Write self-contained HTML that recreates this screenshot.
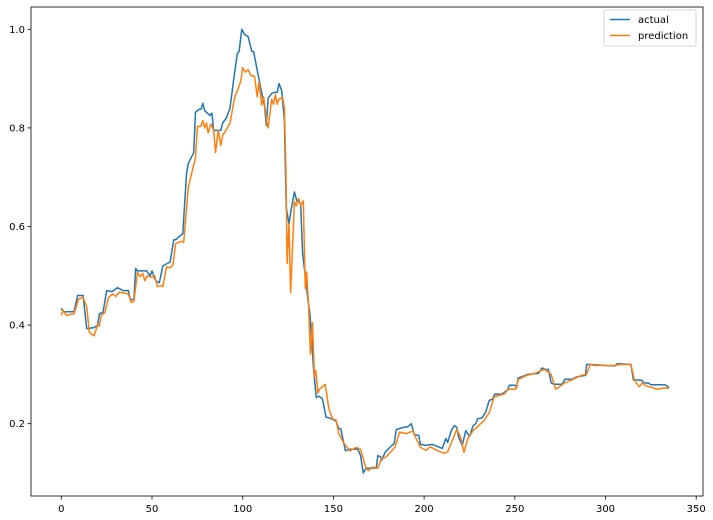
<!DOCTYPE html>
<html><head><meta charset="utf-8"><style>
body{margin:0;background:#fff;}
svg{display:block;font-family:"DejaVu Sans","Liberation Sans",sans-serif;}
</style></head><body>
<svg id="chart" width="713" height="520"></svg>
<script>
const xTicks=[0,50,100,150,200,250,300,350];
const yTicks=[0.2,0.4,0.6,0.8,1.0];
const yTickLabels=["0.2","0.4","0.6","0.8","1.0"];
const actualIdx=[0,1,7,9,12,14,18,20,21,23,25,28,31,34,37,38,40,41,42,47,49,50,52,54,56,60,62,63,67,69,70,73,74,76,77,78,79,82,83,84,88,89,91,93,95,97,98,99.5,101,103,105,106,108,110,112,113,114,116,117.5,119,120,121.5,123,124,125.5,126.5,128.5,130,131,132,133,134.5,136,137,138,139,140.5,142,144,146,147.5,149,151.5,153,154,156.6,159,163.5,165,166.5,168,173.6,174.5,176,176.5,178.5,182,183.5,184.6,188,191,193,194.5,197,198,201,204.5,208,210,212,213,215,216.6,218,219,221,223,225,227,228.5,229.5,232,234,235.9,237.7,239,243,245,246,247,250,251,251.8,255,257,263,265,267,268.5,270,271.6,276,277.6,281.5,284,289,289.6,291.5,305,306.5,314,315.4,320,321,324,325,333,335];
const actualVal=[0.434,0.427,0.427,0.46,0.46,0.393,0.395,0.40,0.423,0.426,0.47,0.468,0.476,0.47,0.47,0.452,0.452,0.515,0.51,0.51,0.50,0.51,0.49,0.486,0.52,0.528,0.573,0.573,0.586,0.707,0.728,0.75,0.832,0.838,0.838,0.85,0.835,0.825,0.83,0.795,0.795,0.81,0.82,0.84,0.897,0.951,0.955,1.0,0.99,0.985,0.955,0.955,0.917,0.88,0.845,0.805,0.86,0.87,0.872,0.872,0.89,0.875,0.815,0.639,0.605,0.63,0.67,0.65,0.65,0.645,0.545,0.50,0.45,0.425,0.375,0.315,0.253,0.256,0.25,0.213,0.212,0.21,0.205,0.19,0.19,0.145,0.148,0.148,0.135,0.10,0.11,0.11,0.135,0.133,0.125,0.142,0.155,0.16,0.188,0.192,0.194,0.20,0.178,0.176,0.158,0.156,0.158,0.153,0.15,0.17,0.162,0.186,0.196,0.193,0.173,0.156,0.186,0.174,0.196,0.20,0.21,0.212,0.224,0.247,0.25,0.26,0.26,0.266,0.268,0.278,0.278,0.273,0.293,0.297,0.30,0.302,0.313,0.31,0.31,0.283,0.28,0.28,0.29,0.29,0.295,0.298,0.32,0.32,0.317,0.322,0.32,0.289,0.288,0.283,0.282,0.279,0.279,0.273];
const predIdx=[0,1,2.7,7,9.5,12,14,15.5,18,20,21,22,24,26,28.5,30,32,37,38.5,40,42,43.5,45,46,47.5,50,51.5,53,55,56,58,60,61.5,63,66,67.5,70,74,75,77,78,79,80,81,82.5,84,85,86.5,88,89,91.5,93,95.5,97.5,99,100,101.5,103,104.5,106.5,108,109,110.5,111.5,113.5,114,116,117,118,119,120,122,123,123.8,124.5,125.5,126.4,128.5,129.5,130.8,132,133.4,134.5,135.3,136.4,137.3,138.5,139.5,140.3,141.4,142.3,145.5,147.5,149.5,151.5,153,155.5,159,162.6,165,168,169.5,171.5,174.5,176.5,178.5,181,184,186.5,190,194,195.6,198,201,203.5,207,211,213,215.5,218,220,222,224,227,230,233,236,238.5,241,244,246.5,250.5,252,256.5,261,264.5,266.5,270,272.5,275,277.5,281,286.5,289.5,291.5,294,305,308,314,316,318.5,320.5,322,326,328,333,335];
const predVal=[0.42,0.43,0.42,0.423,0.453,0.456,0.437,0.385,0.378,0.40,0.398,0.42,0.425,0.456,0.463,0.458,0.467,0.463,0.446,0.448,0.507,0.498,0.505,0.49,0.50,0.497,0.50,0.478,0.48,0.478,0.518,0.516,0.522,0.565,0.57,0.568,0.68,0.74,0.803,0.803,0.815,0.80,0.81,0.79,0.808,0.795,0.75,0.795,0.765,0.785,0.80,0.81,0.86,0.88,0.896,0.922,0.913,0.918,0.906,0.905,0.863,0.893,0.846,0.863,0.806,0.80,0.858,0.848,0.868,0.848,0.858,0.862,0.84,0.72,0.525,0.606,0.466,0.65,0.642,0.657,0.642,0.652,0.474,0.508,0.434,0.341,0.405,0.295,0.308,0.262,0.27,0.28,0.23,0.21,0.207,0.18,0.162,0.145,0.152,0.148,0.108,0.105,0.112,0.11,0.13,0.131,0.14,0.153,0.183,0.18,0.185,0.17,0.152,0.146,0.153,0.146,0.14,0.143,0.166,0.188,0.174,0.142,0.169,0.186,0.196,0.206,0.223,0.254,0.257,0.26,0.27,0.27,0.29,0.298,0.302,0.308,0.31,0.30,0.27,0.276,0.283,0.288,0.298,0.30,0.32,0.318,0.318,0.32,0.32,0.288,0.275,0.283,0.277,0.273,0.27,0.273,0.271];

const NS="http://www.w3.org/2000/svg";
const svg=document.getElementById('chart');
const L=31,R=703,T=7,B=496;
function xs(v){return 61.3+v*1.814;}
function ys(v){return 29.3+(1-v)*493;}
function mk(tag,attrs,parent){const e=document.createElementNS(NS,tag);for(const k in attrs)e.setAttribute(k,attrs[k]);(parent||svg).appendChild(e);return e;}

const a=mk('path',{d:actualIdx.map((v,i)=>(i?'L':'M')+xs(v).toFixed(1)+','+ys(actualVal[i]).toFixed(1)).join(''),fill:'none',stroke:'#1f77b4','stroke-width':1.5,'stroke-linejoin':'round'});


const p=mk('path',{d:predIdx.map((v,i)=>(i?'L':'M')+xs(v).toFixed(1)+','+ys(predVal[i]).toFixed(1)).join(''),fill:'none',stroke:'#ff7f0e','stroke-width':1.5,'stroke-linejoin':'round'});



const frame=mk('rect',{x:L,y:T,width:R-L,height:B-T,fill:'none',stroke:'#000','stroke-width':0.8});



xTicks.forEach(t=>{
  const x=xs(t);
  mk('line',{x1:x,x2:x,y1:B,y2:B+3.5,stroke:'#000','stroke-width':0.8});
  const tx=mk('text',{x:x,y:B+16,'text-anchor':'middle','font-size':10,fill:'#000'});
  tx.textContent=String(t);
  
  
});
yTicks.forEach((t,i)=>{
  const y=ys(t);
  mk('line',{x1:L-3.5,x2:L,y1:y,y2:y,stroke:'#000','stroke-width':0.8});
  const tx=mk('text',{x:L-6,y:y+3.5,'text-anchor':'end','font-size':10,fill:'#000'});
  tx.textContent=yTickLabels[i];
  
  
});

const lg=mk('g',{});


mk('rect',{x:604,y:10,width:92,height:36,rx:2,fill:'#fff','fill-opacity':0.8,stroke:'#ccc','stroke-width':0.8},lg);
mk('line',{x1:610,x2:630,y1:19.5,y2:19.5,stroke:'#1f77b4','stroke-width':1.5},lg);
const t1=mk('text',{x:638,y:23,'font-size':10,fill:'#000'},lg);t1.textContent='actual';


mk('line',{x1:610,x2:630,y1:35.5,y2:35.5,stroke:'#ff7f0e','stroke-width':1.5},lg);
const t2=mk('text',{x:638,y:39,'font-size':10,fill:'#000'},lg);t2.textContent='prediction';


</script>
</body></html>
